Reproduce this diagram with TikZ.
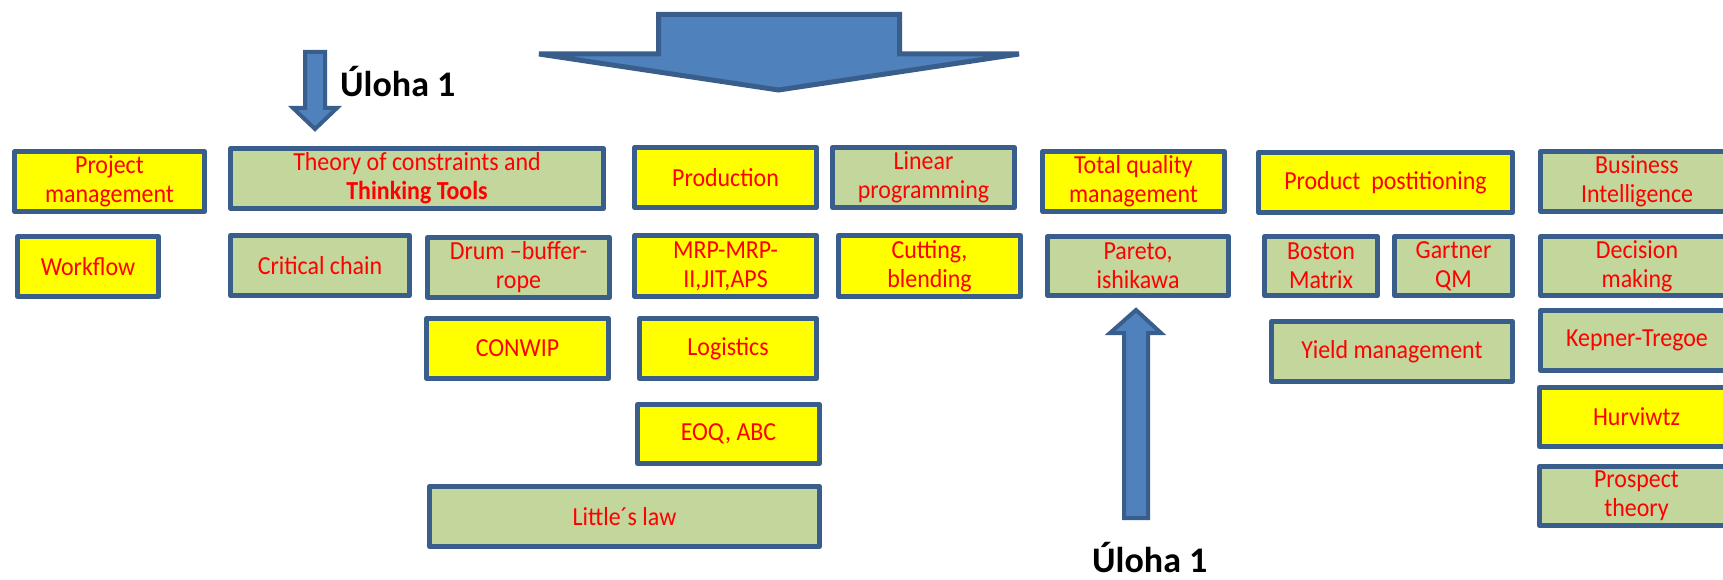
\documentclass[tikz,border=0pt]{standalone}
\usepackage{fontspec}
\setmainfont{Carlito}
\newfontfamily\boxfont{Carlito}[FakeStretch=0.92]
\definecolor{edge}{HTML}{3A5E8C}
\definecolor{arrowfill}{HTML}{4F81BD}
\definecolor{olive}{HTML}{C3D69B}
\definecolor{lemon}{HTML}{FFFF00}
\definecolor{txt}{HTML}{FF0000}
\tikzset{
  box/.style={draw=edge, line width=5pt, line join=round, inner sep=0pt,
    align=center, text=txt, font=\boxfont\fontsize{26}{29}\selectfont},
  bigarrow/.style={draw=edge, fill=arrowfill, line width=5pt, line join=miter},
  taskname/.style={font=\fontsize{36}{40}\selectfont\bfseries, text=black, inner sep=0pt}
}
% \topicbox{name}{x1}{y1}{x2}{y2}{fill}{text}: outer edges of the frame in px
\newcommand\topicbox[7]{%
  \node[box, fill=#6,
    minimum width={#4-#2-5}, minimum height={#5-#3-5}]
    (#1) at ({(#2+#4)/2},{(#3+#5)/2+1}) {#7};}
\begin{document}
\begin{tikzpicture}[x=1pt,y=-1pt]
\useasboundingbox (0,0) rectangle (1723,580);
\clip (0,0) rectangle (1723,580);

% big arrow on top
\draw[bigarrow] (658.5,14.5) -- (899.5,14.5) -- (899.5,54) -- (1019,54)
  -- (778.5,90) -- (539,54) -- (658.5,54) -- cycle;
% small arrow pointing down to the constraints box
\draw[bigarrow, line width=4pt] (305,52) -- (325,52) -- (325,108) -- (337,108)
  -- (315,129) -- (293,108) -- (305,108) -- cycle;
% arrow pointing up to Pareto
\draw[bigarrow, line width=4pt] (1136,310) -- (1161,333) -- (1148,333) -- (1148,518)
  -- (1124,518) -- (1124,333) -- (1110,333) -- cycle;

\node[taskname, anchor=base west] (task1) at (340,97) {Úloha 1};
\node[taskname, anchor=base west] (task2) at (1092,572) {Úloha 1};

% column 1
\topicbox{pm}{12}{148}{207}{213}{lemon}{Project\\management}
\topicbox{wf}{15}{233}{161}{298}{lemon}{Workflow}
% column 2
\topicbox{toc}{228}{145}{606}{210}{olive}{Theory of constraints and\\\textbf{Thinking Tools}}
\topicbox{cc}{228}{232}{412}{297}{olive}{Critical chain}
\topicbox{dbr}{425}{234}{612}{299}{olive}{Drum –buffer-\\rope}
\topicbox{conwip}{424}{315}{611}{380}{lemon}{CONWIP}
\topicbox{little}{427}{483}{822}{548}{olive}{Little´s law}
% column 3
\topicbox{prod}{632}{144}{819}{209}{lemon}{Production}
\topicbox{mrp}{632}{232}{819}{298}{lemon}{MRP-MRP-\\II,JIT,APS}
\topicbox{log}{637}{315}{819}{380}{lemon}{Logistics}
\topicbox{eoq}{635}{401}{822}{465}{lemon}{EOQ, ABC}
% column 4
\topicbox{lp}{830}{144}{1017}{209}{olive}{Linear\\programming}
\topicbox{cut}{836}{232}{1023}{298}{lemon}{Cutting,\\blending}
% column 5
\topicbox{tqm}{1040}{148}{1227}{213}{lemon}{Total quality\\management}
\topicbox{pareto}{1045}{233}{1231}{297}{olive}{Pareto,\\ishikawa}
% column 6
\topicbox{pp}{1256}{149}{1515}{214}{lemon}{Product\ \ postitioning}
\topicbox{boston}{1262}{233}{1380}{297}{olive}{Boston\\Matrix}
\topicbox{gartner}{1392}{233}{1515}{297}{olive}{Gartner\\QM}
\topicbox{yield}{1269}{318}{1515}{383}{olive}{Yield management}
% column 7
\topicbox{bi}{1538}{148}{1736}{213}{olive}{Business\\Intelligence}
\topicbox{dm}{1538}{233}{1736}{297}{olive}{Decision\\making}
\topicbox{kt}{1538}{307}{1736}{372}{olive}{Kepner-Tregoe}
\topicbox{hur}{1537}{384}{1736}{448}{lemon}{Hurviwtz}
\topicbox{pt}{1537}{463}{1736}{527}{olive}{Prospect\\theory}
\end{tikzpicture}
\end{document}
